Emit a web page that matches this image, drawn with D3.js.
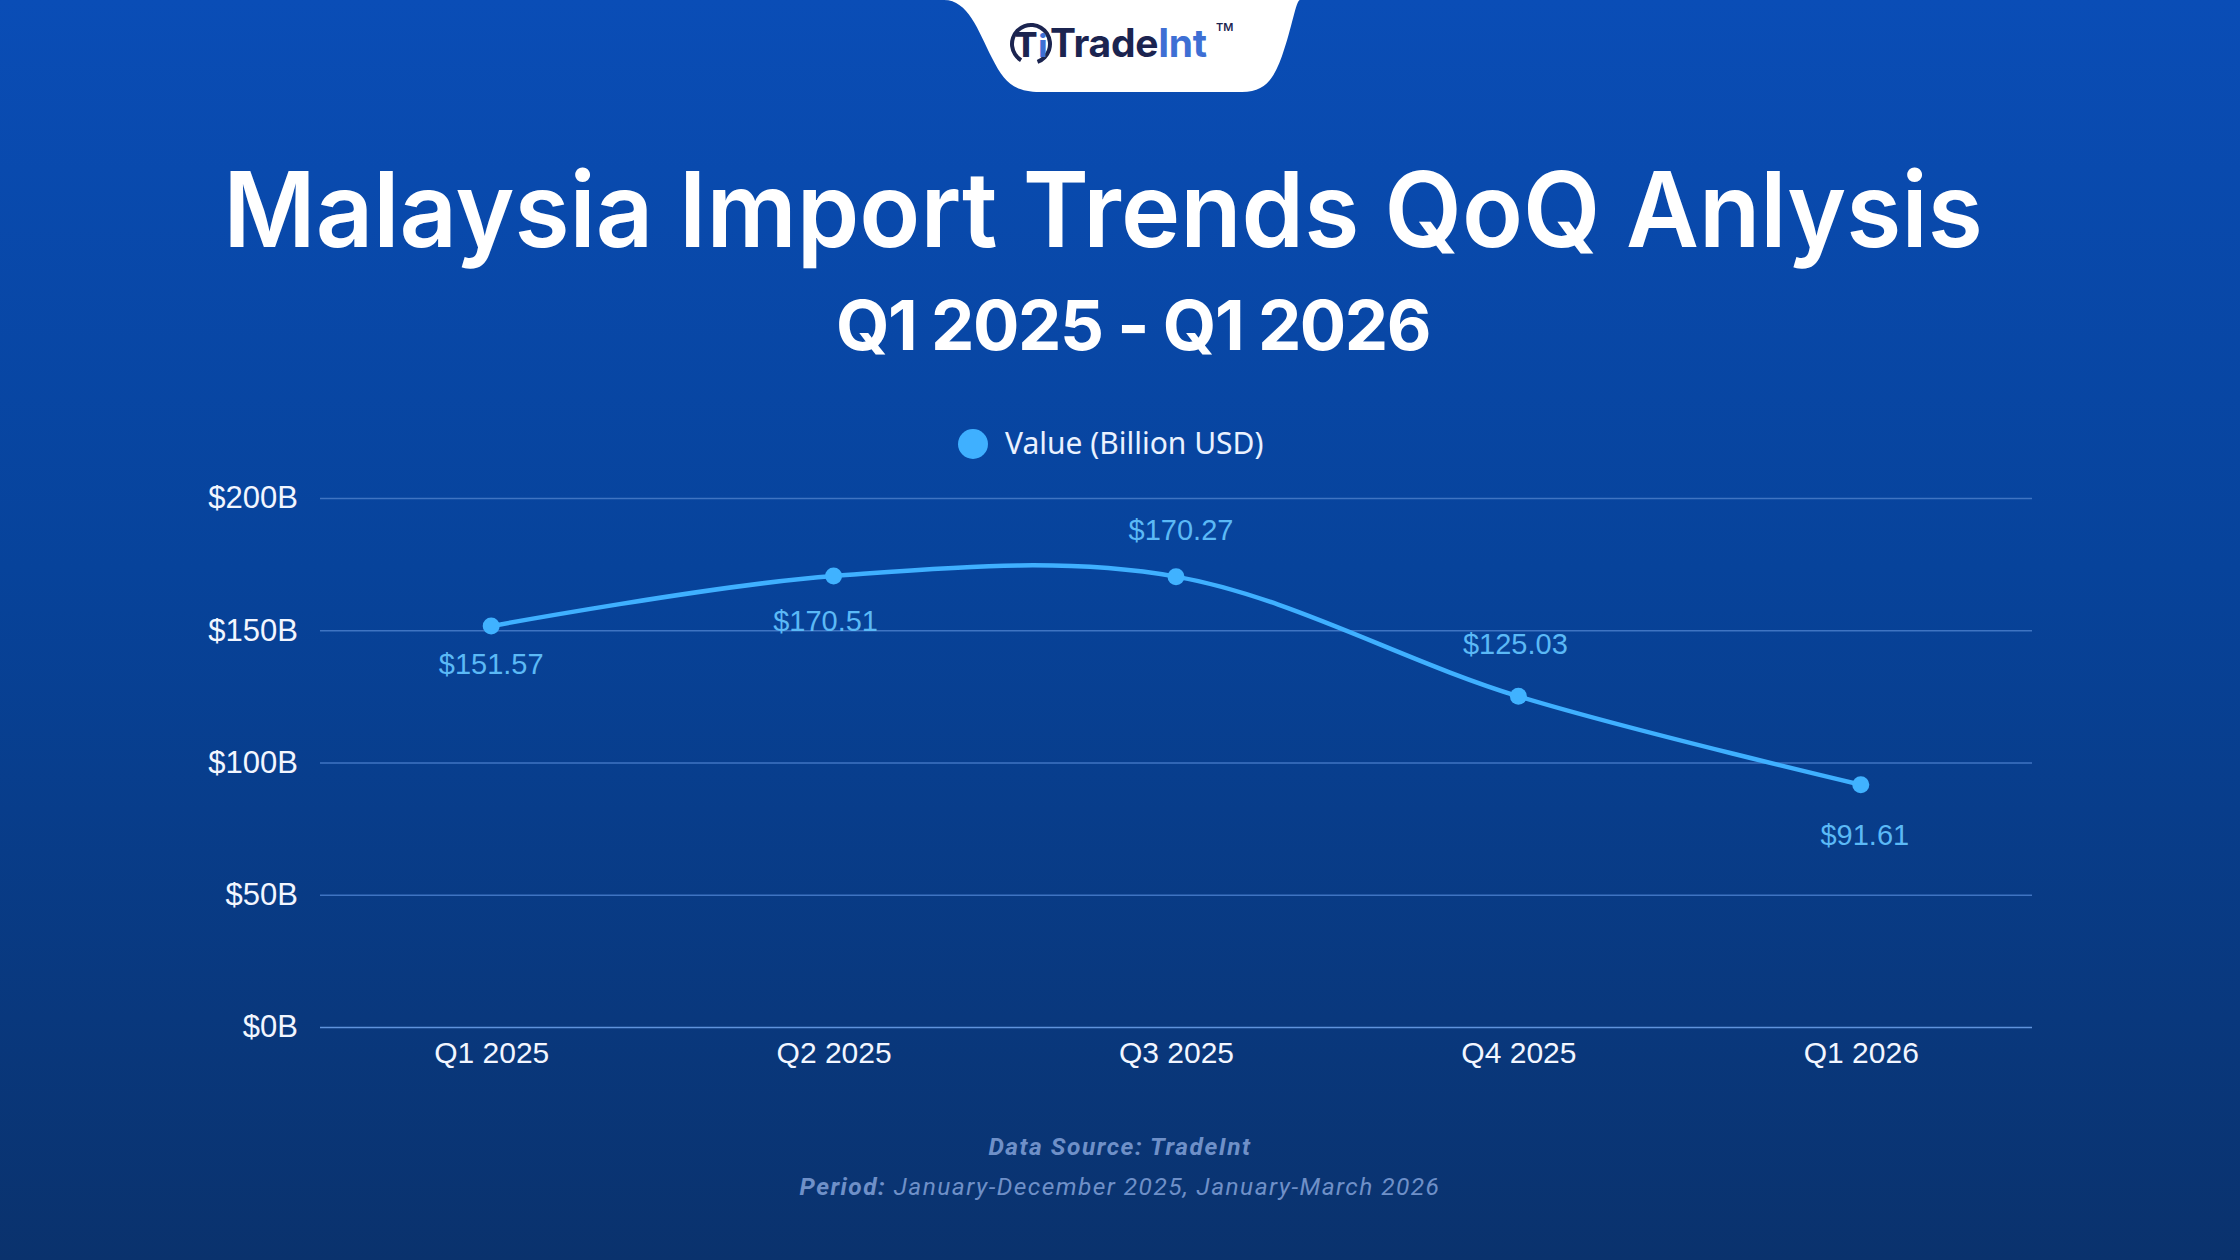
<!DOCTYPE html>
<html>
<head>
<meta charset="utf-8">
<script src="https://cdn.jsdelivr.net/npm/d3@7"></script>
<style>
  html, body { margin: 0; padding: 0; background: #0a3f92; }
  svg { display: block; }
</style>
</head>
<body>
<svg id="chart" width="2240" height="1260"></svg>
<script>
// ---------- data ----------
const categories = ["Q1 2025", "Q2 2025", "Q3 2025", "Q4 2025", "Q1 2026"];
const values = [151.57, 170.51, 170.27, 125.03, 91.61];
const yTicks = [0, 50, 100, 150, 200];
const seriesName = "Value (Billion USD)";
const titleText = "Malaysia Import Trends QoQ Anlysis";
const subtitleText = "Q1 2025 - Q1 2026";

// label layout (baseline offsets from the point, px)
const labelDy = [48, 55, -37, -42, 60];
const labelDx = [0, -8, 5, -3, 4];

const W = 2240, H = 1260;
const svg = d3.select("#chart");
const defs = svg.append("defs");

// background gradient
const bg = defs.append("linearGradient").attr("id", "bg").attr("x1", 0).attr("y1", 0).attr("x2", 0).attr("y2", 1);
bg.append("stop").attr("offset", "0%").attr("stop-color", "#0a4db6");
bg.append("stop").attr("offset", "45%").attr("stop-color", "#07439b");
bg.append("stop").attr("offset", "100%").attr("stop-color", "#0a326d");
svg.append("rect").attr("width", W).attr("height", H).attr("fill", "url(#bg)");

// ---------- logo tab ----------
const logo = svg.append("g");
logo.append("path")
  .attr("d", "M944,0 C968,0 978,30 992,58 C1004,82 1014,92 1040,92 L1242,92 C1266,92 1274,78 1282,56 C1292,28 1296,0 1300,0 Z")
  .attr("fill", "#ffffff");
const arc = d3.arc().innerRadius(17).outerRadius(21).startAngle(0.55).endAngle(2 * Math.PI - 0.35);
logo.append("path").attr("d", arc()).attr("transform", "translate(1031,44) rotate(180)").attr("fill", "#1b2450");
logo.append("text").attr("x", 1026).attr("y", 57).attr("text-anchor", "middle")
  .attr("font-family", "Inter").attr("font-weight", 800).attr("font-size", 34).attr("fill", "#1b2450").text("T");
logo.append("text").attr("x", 1043).attr("y", 57).attr("text-anchor", "middle")
  .attr("font-family", "Inter").attr("font-weight", 800).attr("font-size", 31).attr("fill", "#3e6fd4").text("i");
const lt = logo.append("text").attr("x", 1050).attr("y", 57)
  .attr("font-family", "Inter").attr("font-weight", 700).attr("font-size", 39).attr("letter-spacing", -0.3);
lt.append("tspan").attr("fill", "#1b2450").text("Trade");
lt.append("tspan").attr("fill", "#3e6fd4").text("Int");
logo.append("text").attr("x", 1216).attr("y", 31)
  .attr("font-family", "Inter").attr("font-weight", 600).attr("font-size", 11).attr("fill", "#1b2450").text("TM");

// ---------- titles ----------
function fitText(sel, cx, targetW) {
  const w = sel.node().getComputedTextLength();
  const sx = targetW / w;
  sel.attr("x", 0).attr("text-anchor", "middle")
     .attr("transform", `translate(${cx},${sel.attr("data-y")}) scale(${sx},1)`).attr("y", 0);
}
const title = svg.append("text")
  .attr("data-y", 247)
  .attr("font-family", "Inter").attr("font-weight", 600).attr("font-size", 104)
  .attr("fill", "#ffffff").text(titleText);
fitText(title, 1103, 1760);

const subtitle = svg.append("text")
  .attr("data-y", 350)
  .attr("font-family", "Inter").attr("font-weight", 700).attr("font-size", 69)
  .attr("fill", "#ffffff").attr("letter-spacing", -1.5).text(subtitleText);
fitText(subtitle, 1133, 594);

// ---------- legend ----------
const legend = svg.append("g");
legend.append("circle").attr("cx", 973).attr("cy", 444).attr("r", 15).attr("fill", "#3fb0ff");
legend.append("text").attr("x", 1005).attr("y", 454)
  .attr("font-family", "Noto Sans").attr("font-size", 30).attr("fill", "#eaf2ff").text(seriesName);

// ---------- scales ----------
const x = d3.scalePoint().domain(categories).range([320, 2032]).padding(0.5);
const y = d3.scaleLinear().domain([0, 200]).range([1027, 498]);

// y axis with gridlines
const yAxis = svg.append("g").attr("transform", "translate(320,0)")
  .call(d3.axisLeft(y).tickValues(yTicks).tickSize(-1712).tickPadding(22).tickFormat(d => `$${d}B`));
yAxis.select(".domain").remove();
yAxis.selectAll(".tick line").attr("stroke-width", 1.5)
  .attr("stroke", d => d === 0 ? "#5f93dc" : "#3f74c2");
yAxis.selectAll(".tick text").attr("font-family", "Liberation Sans, Arial, sans-serif")
  .attr("font-size", 31).attr("fill", "#f2f6ff");

// x axis
const xAxis = svg.append("g").attr("transform", "translate(0,1027)")
  .call(d3.axisBottom(x).tickSize(0).tickPadding(15));
xAxis.select(".domain").remove();
xAxis.selectAll(".tick text").attr("font-family", "Liberation Sans, Arial, sans-serif")
  .attr("font-size", 30).attr("fill", "#f2f6ff");

// ---------- line ----------
const pts = categories.map((c, i) => ({ c, v: values[i], i }));
const line = d3.line().x(d => x(d.c)).y(d => y(d.v)).curve(d3.curveCardinal.tension(0));
svg.append("path").datum(pts).attr("d", line)
  .attr("fill", "none").attr("stroke", "#3fb0ff").attr("stroke-width", 4.5);

svg.append("g").selectAll("circle").data(pts).join("circle")
  .attr("cx", d => x(d.c)).attr("cy", d => y(d.v)).attr("r", 8.5).attr("fill", "#40b2ff");

svg.append("g").selectAll("text").data(pts).join("text")
  .attr("x", d => x(d.c) + labelDx[d.i]).attr("y", d => y(d.v) + labelDy[d.i])
  .attr("text-anchor", "middle")
  .attr("font-family", "Liberation Sans, Arial, sans-serif").attr("font-size", 29)
  .attr("fill", "#5bb9f6").text(d => `$${d.v.toFixed(2)}`);

// ---------- footer ----------
svg.append("text").attr("x", 1120).attr("y", 1155).attr("text-anchor", "middle")
  .attr("font-family", "Roboto").attr("font-style", "italic").attr("font-weight", 700)
  .attr("font-size", 24.5).attr("letter-spacing", 1.5).attr("fill", "#6f90c8").text("Data Source: TradeInt");
const f2 = svg.append("text").attr("x", 1120).attr("y", 1195).attr("text-anchor", "middle")
  .attr("font-family", "Roboto").attr("font-style", "italic")
  .attr("font-size", 24.5).attr("letter-spacing", 1.45).attr("fill", "#6f90c8");
f2.append("tspan").attr("font-weight", 700).text("Period:");
f2.append("tspan").attr("font-weight", 400).text(" January-December 2025, January-March 2026");
</script>
</body>
</html>
